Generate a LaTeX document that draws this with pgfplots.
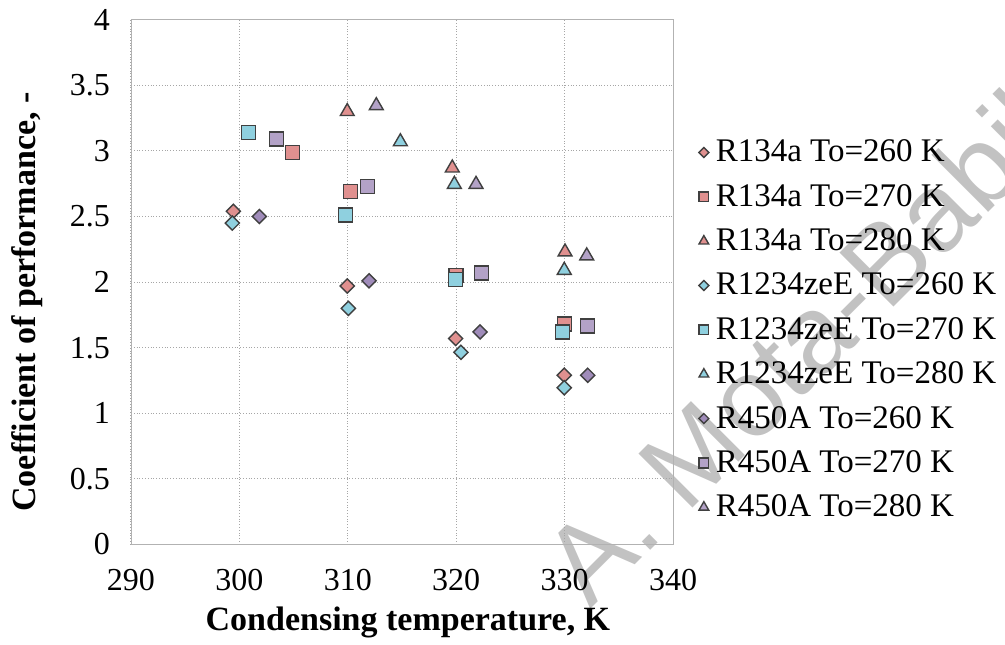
\documentclass[border=0pt]{standalone}
\usepackage{fontspec}
\setmainfont{Liberation Serif}
\setsansfont{Liberation Sans}
\usepackage{pgfplots}
\pgfplotsset{compat=1.18}
\definecolor{cpink}{HTML}{E0908F}
\definecolor{ccyan}{HTML}{8FD0DF}
\definecolor{cpurp}{HTML}{B3A2C7}
\definecolor{cpurpd}{HTML}{A08CBA}
\definecolor{edge}{HTML}{404040}
\begin{document}
\begin{tikzpicture}
\useasboundingbox (-65.5pt,-49.75pt) rectangle (437pt,272.25pt);
\node[rotate=45, anchor=base west, text=black!24, font=\sffamily\fontsize{55.5}{60}\selectfont, inner sep=0pt] at (229.8pt,-32.85pt) {A. Mota-Babiloni};
\begin{axis}[at={(0,0)}, anchor=south west, scale only axis,
  width=271pt, height=262.4pt,
  xmin=290, xmax=340, ymin=0, ymax=4,
  xtick={290,300,...,340}, ytick={0,0.5,...,4},
  grid=major, major grid style={densely dotted, gray!70, line width=0.5pt},
  axis line style={gray!60}, major tick length=0pt,
  tick label style={font=\fontsize{16}{19}\selectfont},
  /pgf/number format/assume math mode=true,
  xticklabel style={yshift=-9pt}, yticklabel style={xshift=-7pt},
  xlabel={Condensing temperature, K},
  ylabel={Coefficient of performance, -},
  label style={font=\fontsize{17}{20}\selectfont\bfseries},
  xlabel style={at={(axis description cs:0.511,-0.1477)}, anchor=center},
  ylabel style={at={(axis description cs:-0.1919,0.462)}, anchor=center},
  legend style={draw=none, fill=none, at={(axis description cs:1.036,0.409)}, anchor=west,
    font=\fontsize{16.5}{19}\selectfont, row sep=5.7pt, column sep=1.5pt},
  legend cell align=left,
  legend image code/.code={\draw[#1, every mark/.append style={scale=0.7}] plot coordinates {(0.1cm,0cm)};},
]
\addplot[only marks, mark=square*, mark size=2.5pt, mark options={rotate=45, fill=cpink, draw=edge, line width=0.7pt}]
  coordinates {(299.44,2.54) (309.95,1.97) (319.95,1.57) (329.97,1.29)};
\addlegendentry{R134a To=260 K}
\addplot[only marks, mark=square*, mark size=3.5pt, mark options={fill=cpink, draw=edge, line width=0.7pt}]
  coordinates {(304.9,2.99) (310.27,2.69) (320.0,2.05) (330.0,1.68)};
\addlegendentry{R134a To=270 K}
\addplot[only marks, mark=triangle*, mark size=4pt, mark options={fill=cpink, draw=edge, line width=0.7pt}]
  coordinates {(309.95,3.30) (319.64,2.87) (330.04,2.23)};
\addlegendentry{R134a To=280 K}
\addplot[only marks, mark=square*, mark size=2.5pt, mark options={rotate=45, fill=ccyan, draw=edge, line width=0.7pt}]
  coordinates {(299.35,2.45) (310.05,1.80) (320.44,1.465) (329.97,1.195)};
\addlegendentry{R1234zeE To=260 K}
\addplot[only marks, mark=square*, mark size=3.5pt, mark options={fill=ccyan, draw=edge, line width=0.7pt}]
  coordinates {(300.82,3.14) (309.8,2.51) (319.95,2.02) (329.8,1.62)};
\addlegendentry{R1234zeE To=270 K}
\addplot[only marks, mark=triangle*, mark size=4pt, mark options={fill=ccyan, draw=edge, line width=0.7pt}]
  coordinates {(314.85,3.07) (319.83,2.745) (329.97,2.09)};
\addlegendentry{R1234zeE To=280 K}
\addplot[only marks, mark=square*, mark size=2.5pt, mark options={rotate=45, fill=cpurpd, draw=edge, line width=0.7pt}]
  coordinates {(301.84,2.50) (311.96,2.01) (322.2,1.62) (332.13,1.29)};
\addlegendentry{R450A To=260 K}
\addplot[only marks, mark=square*, mark size=3.5pt, mark options={fill=cpurp, draw=edge, line width=0.7pt}]
  coordinates {(303.44,3.09) (311.8,2.73) (322.35,2.07) (332.13,1.665)};
\addlegendentry{R450A To=270 K}
\addplot[only marks, mark=triangle*, mark size=4pt, mark options={fill=cpurp, draw=edge, line width=0.7pt}]
  coordinates {(312.63,3.345) (321.83,2.745) (332.04,2.20)};
\addlegendentry{R450A To=280 K}
\end{axis}
\end{tikzpicture}
\end{document}
